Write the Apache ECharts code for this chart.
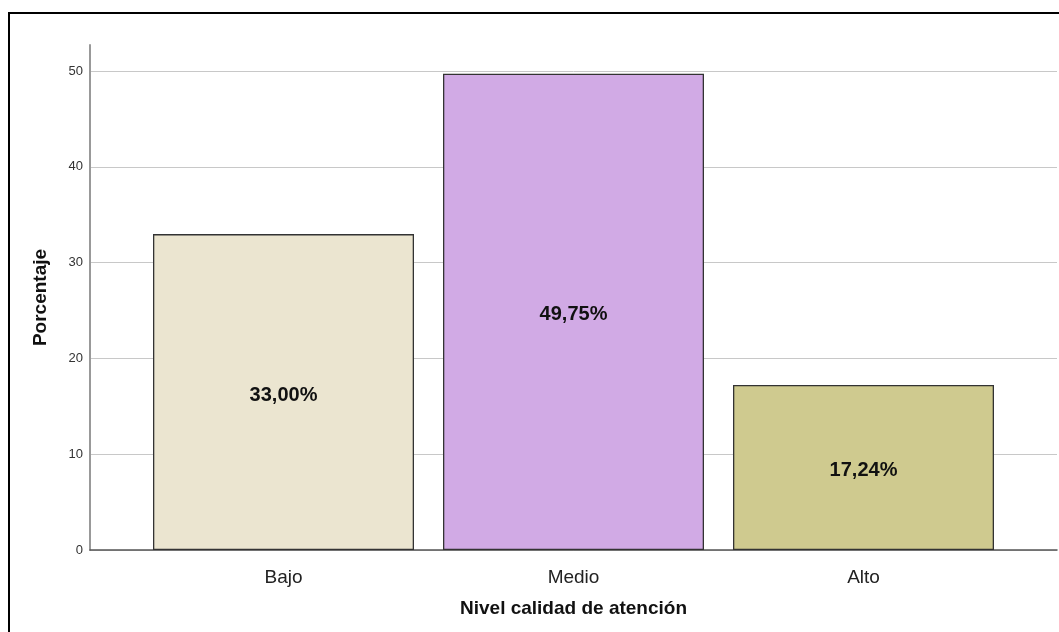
<!DOCTYPE html>
<html>
<head>
<meta charset="utf-8">
<script src="https://cdn.jsdelivr.net/npm/echarts@6/dist/echarts.min.js"></script>
<style>
html, body { margin: 0; padding: 0; background: #fff; }
#chart { width: 1059px; height: 632px; }
</style>
</head>
<body>
<div id="chart"></div>
<script>
// datos del grafico
var categorias = ['Bajo', 'Medio', 'Alto'];
var porcentajes = [33.00, 49.75, 17.24];
var colores = ['#EBE5D0', '#D1AAE5', '#CFCA8F'];
var ticksY = [0, 10, 20, 30, 40, 50];

var fuente = '"Liberation Sans", Arial, sans-serif';

var chart = echarts.init(document.getElementById('chart'));

var option = {
	backgroundColor: '#fff',
	animation: false,
	graphic: [{
		type: 'rect',
		shape: { x: 9, y: 13, width: 1200, height: 800 },
		style: { fill: 'none', stroke: '#000', lineWidth: 2 },
		silent: true
	}],
	grid: [
		// marco de ejes (linea del eje y llega mas arriba que el 50)
		{ left: 90, right: 2, top: 45, bottom: 82 },
		// rejilla de las barras
		{ left: 138.5, right: 50.5, top: 45, bottom: 82 },
		// lineas guia y etiquetas del eje y
		{ left: 90, right: 2, top: 71, bottom: 82 }
	],
	xAxis: [{
		gridIndex: 0,
		type: 'category',
		data: [''],
		axisLine: { show: true, lineStyle: { color: '#555', width: 1.5 } },
		axisTick: { show: false },
		axisLabel: { show: false }
	}, {
		gridIndex: 1,
		type: 'category',
		data: categorias,
		axisLine: { show: false },
		axisTick: { show: false },
		axisLabel: { color: '#222', fontSize: 19, fontFamily: fuente, margin: 18 },
		name: 'Nivel calidad de atención',
		nameLocation: 'middle',
		nameGap: 49,
		nameTextStyle: { color: '#111', fontSize: 19, fontWeight: 'bold', fontFamily: fuente }
	}, {
		gridIndex: 2,
		type: 'category',
		data: [''],
		show: false
	}],
	yAxis: [{
		gridIndex: 0,
		type: 'value',
		min: 0,
		max: 52.75,
		axisLine: { show: true, lineStyle: { color: '#999', width: 2 } },
		axisTick: { show: false },
		axisLabel: { show: false },
		splitLine: { show: false },
		name: 'Porcentaje',
		nameLocation: 'middle',
		nameGap: 40,
		nameTextStyle: { color: '#111', fontSize: 19, fontWeight: 'bold', fontFamily: fuente }
	}, {
		gridIndex: 1,
		type: 'value',
		min: 0,
		max: 52.75,
		show: false
	}, {
		gridIndex: 2,
		type: 'value',
		min: ticksY[0],
		max: ticksY[ticksY.length - 1],
		interval: 10,
		axisLine: { show: false },
		axisTick: { show: false },
		axisLabel: { color: '#333', fontSize: 13, fontFamily: fuente, margin: 7 },
		splitLine: { show: true, lineStyle: { color: '#c8c8c8', width: 1 } }
	}],
	series: [{
		type: 'bar',
		xAxisIndex: 1,
		yAxisIndex: 1,
		barCategoryGap: '10%',
		z: 3,
		data: porcentajes.map(function(v, i) {
			return { value: v, itemStyle: { color: colores[i] } };
		}),
		itemStyle: { borderColor: '#333', borderWidth: 1.3 },
		label: {
			show: true,
			position: 'inside',
			offset: [0, 3],
			color: '#111',
			fontSize: 20,
			fontWeight: 'bold',
			fontFamily: fuente,
			formatter: function(p) { return p.value.toFixed(2).replace('.', ',') + '%'; }
		}
	}]
};

chart.setOption(option);
</script>
</body>
</html>
